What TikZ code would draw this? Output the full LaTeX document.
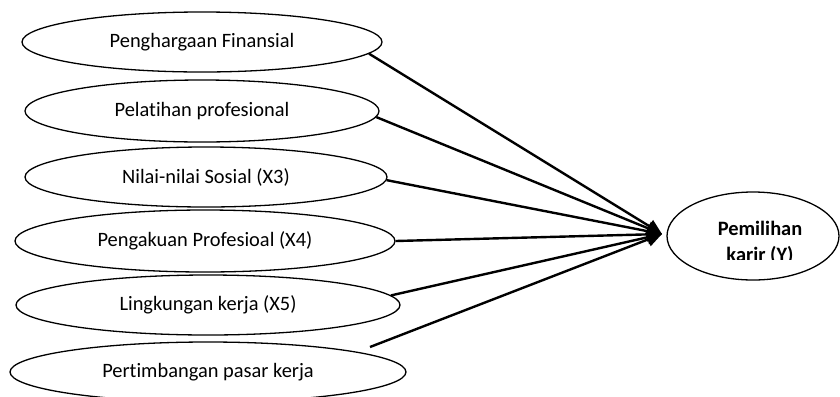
\documentclass[tikz,border=0pt]{standalone}
\usepackage{fontspec}
\setmainfont{Carlito}[Ligatures=NoCommon]
\usetikzlibrary{shapes.geometric,arrows.meta}
\begin{document}
\begin{tikzpicture}[x=1bp,y=-1bp,
  el/.style={ellipse, draw, line width=1.3bp, inner sep=0pt, font=\fontsize{20.5}{24}\selectfont},
  conn/.style={line width=2.4bp, -{Triangle[length=15bp,width=14bp]}}]
\useasboundingbox (0,0) rectangle (840,396);
\node[el, minimum width=360bp, minimum height=60bp] (e1) at (202,42) {Penghargaan Finansial};
\node[el, minimum width=354bp, minimum height=62bp] (e2) at (202,111) {Pelatihan profesional};
\node[el, minimum width=362bp, minimum height=60bp] (e3) at (206,177) {Nilai-nilai Sosial (X3)};
\node[el, minimum width=380bp, minimum height=62bp] (e4) at (205,241) {Pengakuan Profesioal (X4)};
\node[el, minimum width=384bp, minimum height=60bp] (e5) at (208,305) {Lingkungan kerja (X5)};
\node[el, minimum width=396bp, minimum height=60bp] (e6) at (208,372) {Pertimbangan pasar kerja};
\node[el, minimum width=172bp, minimum height=88bp] (y) at (753,236) {};
\begin{scope}
\clip (690,200) rectangle (830,259);
\node[font=\bfseries\fontsize{20.5}{26}\selectfont, align=center] (ylab) at (760,243) {Pemilihan\\karir (Y)};
\end{scope}
\coordinate (tip) at (662,234);
\coordinate (s6) at (370,347);
\draw[conn] (e1.-4.6) -- (tip);
\draw[conn] (e2.-2.3) -- (tip);
\draw[conn] (e3.-1) -- (tip);
\draw[conn] (e4.east) -- (tip);
\draw[conn] (e5.3.8) -- (tip);
\draw[conn] (s6) -- (tip);
\end{tikzpicture}
\end{document}
